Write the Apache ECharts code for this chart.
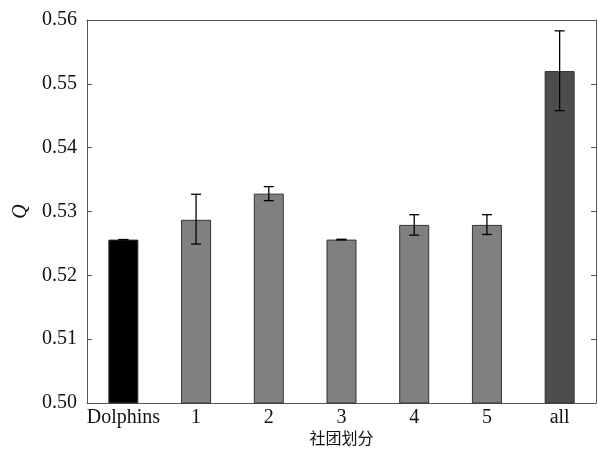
<!DOCTYPE html>
<html><head><meta charset="utf-8">
<script src="https://cdn.jsdelivr.net/npm/echarts@6/dist/echarts.min.js"></script>
<style>html,body{margin:0;padding:0;background:#fff}#c{width:599px;height:450px}</style>
</head><body><div id="c"></div>
<script>
const categories = ['Dolphins', '1', '2', '3', '4', '5', 'all'];
const qValues = [0.5256, 0.5287, 0.5328, 0.5256, 0.5279, 0.5279, 0.5520];
const errLow = [0.5256, 0.5249, 0.5317, 0.52555, 0.5263, 0.5264, 0.5458];
const errHigh = [0.5256, 0.5327, 0.5339, 0.52565, 0.5295, 0.5295, 0.5583];
const barColors = ['#000000', '#808080', '#808080', '#808080', '#808080', '#808080', '#4d4d4d'];
const yTicks = [0.50, 0.51, 0.52, 0.53, 0.54, 0.55, 0.56];

const chart = echarts.init(document.getElementById('c'));
const serif = 'Liberation Serif, Times New Roman, serif';
const axisCol = '#555';
chart.setOption({
  animation: false,
  grid: {left: 87, right: 3, top: 20, bottom: 47, outerBoundsMode: 'none', containLabel: false},
  xAxis: [{
    type: 'category', data: categories, position: 'bottom',
    name: '社团划分', nameLocation: 'middle', nameGap: 27, nameMoveOverlap: false,
    nameTextStyle: {fontFamily: 'Noto Sans CJK SC', fontSize: 16, color: '#111'},
    axisLine: {lineStyle: {color: axisCol, width: 1}},
    axisTick: {inside: true, alignWithLabel: true, length: 5, lineStyle: {color: axisCol}},
    axisLabel: {interval: 0, fontFamily: serif, fontSize: 20, color: '#111', margin: 5},
    splitLine: {show: false}
  }, {
    type: 'category', data: categories, position: 'top',
    axisLine: {lineStyle: {color: axisCol, width: 1}},
    axisTick: {inside: true, alignWithLabel: true, length: 5, lineStyle: {color: axisCol}},
    axisLabel: {show: false}
  }],
  yAxis: [{
    type: 'value', min: 0.50, max: 0.56, interval: 0.01, position: 'left',
    name: 'Q', nameLocation: 'middle', nameGap: 56, nameRotate: 90, nameMoveOverlap: false,
    nameTextStyle: {fontFamily: serif, fontStyle: 'italic', fontSize: 20, color: '#111'},
    axisLine: {show: true, lineStyle: {color: axisCol, width: 1}},
    axisTick: {show: true, inside: true, length: 5, lineStyle: {color: axisCol}},
    axisLabel: {fontFamily: serif, fontSize: 20, color: '#111', margin: 10,
      formatter: v => v.toFixed(2)},
    splitLine: {show: false}
  }, {
    type: 'value', min: 0.50, max: 0.56, interval: 0.01, position: 'right',
    axisLine: {show: true, lineStyle: {color: axisCol, width: 1}},
    axisTick: {show: true, inside: true, length: 5, lineStyle: {color: axisCol}},
    axisLabel: {show: false},
    splitLine: {show: false}
  }],
  series: [{
    type: 'bar', xAxisIndex: 0, yAxisIndex: 0, barWidth: 30,
    data: qValues.map((v, i) => ({value: v, itemStyle: {color: barColors[i]}})),
    itemStyle: {borderColor: '#333', borderWidth: 1}
  }, {
    type: 'custom', xAxisIndex: 0, yAxisIndex: 0, z: 10,
    data: categories.map((c, i) => [i, errLow[i], errHigh[i]]),
    renderItem: function (params, api) {
      const x = api.value(0);
      const lo = api.coord([x, api.value(1)]);
      const hi = api.coord([x, api.value(2)]);
      const hw = 5;
      const st = {stroke: '#000', lineWidth: 1.3};
      return {type: 'group', children: [
        {type: 'line', shape: {x1: lo[0], y1: lo[1], x2: hi[0], y2: hi[1]}, style: st},
        {type: 'line', shape: {x1: lo[0] - hw, y1: lo[1], x2: lo[0] + hw, y2: lo[1]}, style: st},
        {type: 'line', shape: {x1: hi[0] - hw, y1: hi[1], x2: hi[0] + hw, y2: hi[1]}, style: st}
      ]};
    }
  }]
});
</script></body></html>
